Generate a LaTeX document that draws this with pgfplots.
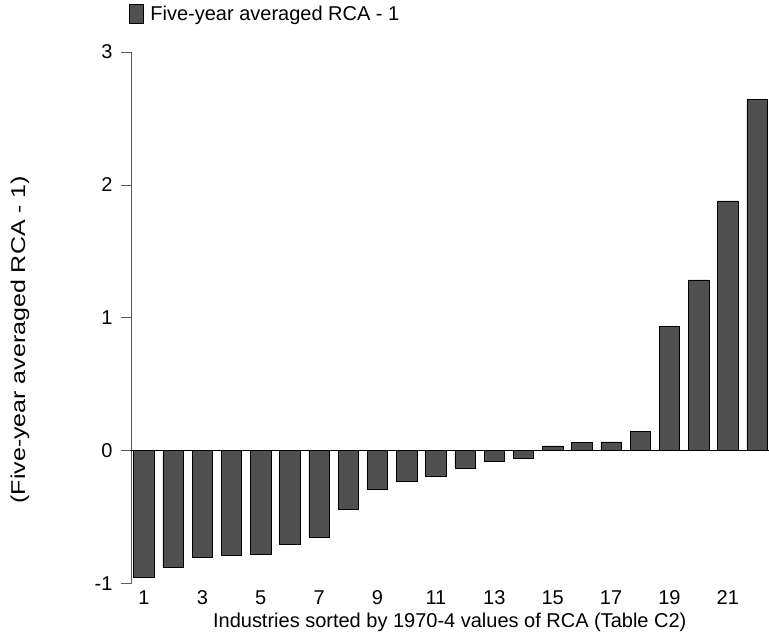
\documentclass[border=0pt]{standalone}
\usepackage{fontspec}
\setmainfont{Liberation Sans}
\usepackage{graphicx}
\usepackage{pgfplots}
\pgfplotsset{compat=1.18}
\definecolor{barcol}{RGB}{80,80,80}
\definecolor{axcol}{RGB}{90,90,90}
\begin{document}
\begin{tikzpicture}
\begin{axis}[
  name=ax,
  scale only axis,
  width=638pt, height=532pt,
  xmin=0.555, xmax=22.396,
  ymin=-1, ymax=3,
  axis y line*=left,
  axis x line*=bottom,
  x axis line style={draw=none},
  y axis line style={draw=axcol, line width=0.8pt},
  xtick={1,3,...,21},
  ytick={-1,0,1,2,3},
  x tick style={draw=none},
  y tick style={draw=axcol, line width=0.8pt},
  tick align=outside,
  major tick length=10pt,
  font=\fontsize{20}{24}\selectfont,
  /pgf/number format/assume math mode=true,
  yticklabel style={xshift=-5pt},
  xticklabel style={yshift=8pt, text height=15pt, text depth=0pt},
  xlabel={Industries sorted by 1970-4 values of RCA (Table C2)},
  ylabel={\scalebox{1.25}[1]{(Five-year averaged RCA - 1)}},
  xlabel style={at={(axis description cs:0.5,-0.072)}, anchor=center},
  ylabel style={at={(axis description cs:-0.174,0.459)}, anchor=center, rotate=0},
  extra y ticks={0},
  extra y tick labels={},
  extra y tick style={grid=major, major grid style={black, line width=0.8pt}, tick style={draw=none}},
  legend style={at={(axis description cs:-0.003,1.053)}, anchor=south west, draw=none, fill=none, inner sep=0pt, font=\fontsize{20}{24}\selectfont},
  legend image code/.code={\draw[black, line width=0.5pt, fill=barcol] (0pt,-9.5pt) rectangle (14pt,9.5pt); \path[draw=none, fill=none] (0pt,0pt) -- (19pt,0pt);},
  legend cell align=left,
]
\addplot[ybar, bar width=0.7, fill=barcol, draw=black, line width=0.6pt] coordinates {
(1,-0.95) (2,-0.88) (3,-0.80) (4,-0.785) (5,-0.78) (6,-0.70) (7,-0.65) (8,-0.44)
(9,-0.29) (10,-0.23) (11,-0.195) (12,-0.13) (13,-0.082) (14,-0.057) (15,0.036)
(16,0.062) (17,0.066) (18,0.147) (19,0.934) (20,1.285) (21,1.88) (22,2.645)
};
\addlegendentry{Five-year averaged RCA - 1}
\end{axis}
\path (ax.south west) ++(-131pt,-51pt) rectangle ++(769pt,635pt);
\end{tikzpicture}
\end{document}
